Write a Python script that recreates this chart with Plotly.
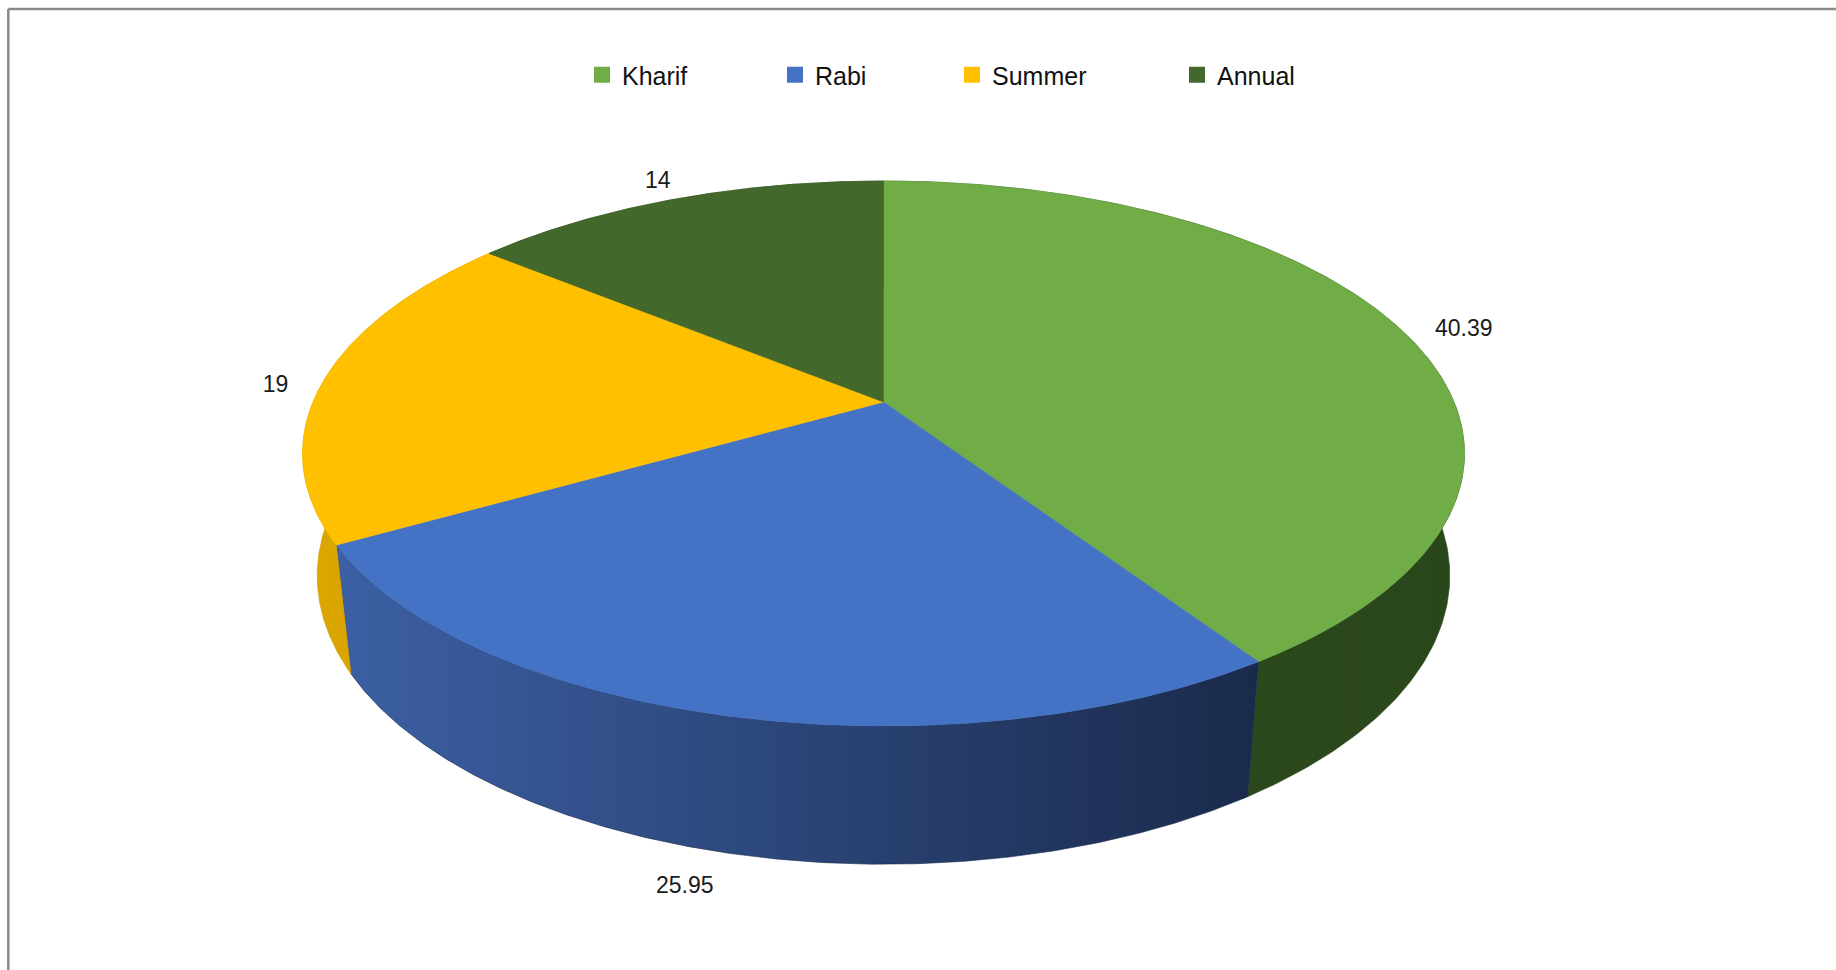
import numpy as np
import plotly.graph_objects as go

# ---- data ----
categories = ["Kharif", "Rabi", "Summer", "Annual"]
values = [40.39, 25.95, 19, 14]
value_labels = ["40.39", "25.95", "19", "14"]

# ---- styles ----
top_colors = ["#70AD47", "#4472C4", "#FFC000", "#43682B"]
wall_colors = [("#2F4E1F", "#2A461B"), ("#3C60A4", "#1A2A4B"),
               ("#DCA700", "#D29E00"), ("#2C451C", "#2C451C")]

# ---- 3D projection parameters (pixel space) ----
CX, CY = 883.5, 402.0
R, H = 570.5, 262.8
K, M, T = 0.189, 0.025, 123.6
N = 240


def proj(theta_deg, r=1.0, level=0.0):
    t = np.radians(theta_deg)
    d = 1 + K * r * np.sin(t) + M * level
    x = CX + R * r * np.cos(t) / d
    y = CY + (-H * r * np.sin(t) + T * level) / d
    return x, y


total = sum(values)
starts, ends = [], []
a = 90.0
for v in values:
    starts.append(a)
    a = a - 360.0 * v / total
    ends.append(a)

fig = go.Figure()

# walls
for i, cat in enumerate(categories):
    th = np.linspace(starts[i], ends[i], N)
    xt, yt = proj(th, 1.0, 0.0)
    xb, yb = proj(th[::-1], 1.0, 1.0)
    xs = np.concatenate([xt, xb, xt[:1]])
    ys = np.concatenate([yt, yb, yt[:1]])
    c0, c1 = wall_colors[i]
    fig.add_trace(go.Scatter(
        x=xs, y=ys, mode="lines", fill="toself",
        line=dict(width=0.6, color=c1),
        fillgradient=dict(type="horizontal", colorscale=[[0, c0], [1, c1]]),
        showlegend=False, hoverinfo="skip"))

# top faces
for i, cat in enumerate(categories):
    th = np.linspace(starts[i], ends[i], N)
    xt, yt = proj(th, 1.0, 0.0)
    xs = np.concatenate([[CX], xt, [CX]])
    ys = np.concatenate([[CY], yt, [CY]])
    fig.add_trace(go.Scatter(
        x=xs, y=ys, mode="lines", fill="toself",
        fillcolor=top_colors[i], line=dict(width=0.6, color=top_colors[i]),
        showlegend=False, hoverinfo="text", text=f"{cat}: {values[i]}"))

# data labels (outside end)
lx, ly = [], []
for i in range(len(values)):
    mid = (starts[i] + ends[i]) / 2
    s, c = np.sin(np.radians(mid)), np.cos(np.radians(mid))
    if s < -0.3:
        x, y = proj(mid, 1.06, 1.0)
        y += 10
        x -= 30
    else:
        x, y = proj(mid, 1.065, 0.0)
        half_w = 6.4 * len(value_labels[i])
        x += half_w * c
        y += -16 * s + 9
    lx.append(x)
    ly.append(y)
fig.add_trace(go.Scatter(
    x=lx, y=ly, mode="text", text=value_labels, textposition="middle center",
    textfont=dict(family="Liberation Sans, Arial, sans-serif", size=23, color="#1a1a1a"),
    showlegend=False, hoverinfo="skip"))

# legend entries (one legend each, spaced like the original)
legend_x = [582, 775, 952, 1177]
legend_names = ["legend", "legend2", "legend3", "legend4"]
for i, cat in enumerate(categories):
    fig.add_trace(go.Scatter(
        x=[None], y=[None], mode="markers", name=cat,
        marker=dict(symbol="square", size=16, color=top_colors[i]),
        legend=legend_names[i], showlegend=True))

layout_legends = {}
for i, ln in enumerate(legend_names):
    layout_legends[ln] = dict(
        x=legend_x[i] / 1836, y=1 - 75 / 970, xanchor="left", yanchor="middle",
        orientation="h", bgcolor="rgba(0,0,0,0)",
        font=dict(family="Liberation Sans, Arial, sans-serif", size=25, color="#111111"))

fig.update_layout(
    width=1836, height=970,
    margin=dict(l=0, r=0, t=0, b=0),
    paper_bgcolor="white", plot_bgcolor="white",
    xaxis=dict(range=[0, 1836], visible=False, fixedrange=True),
    yaxis=dict(range=[970, 0], visible=False, fixedrange=True),
    shapes=[
        dict(type="line", xref="x", yref="y", x0=8.3, x1=1836, y0=9, y1=9,
             line=dict(color="#8a8a8a", width=2.5)),
        dict(type="line", xref="x", yref="y", x0=8.3, x1=8.3, y0=9, y1=970,
             line=dict(color="#8a8a8a", width=2.5)),
    ],
    **layout_legends,
)

fig.write_html("out.html", config={"displayModeBar": False},
               post_script="document.body.style.margin='0px';")
